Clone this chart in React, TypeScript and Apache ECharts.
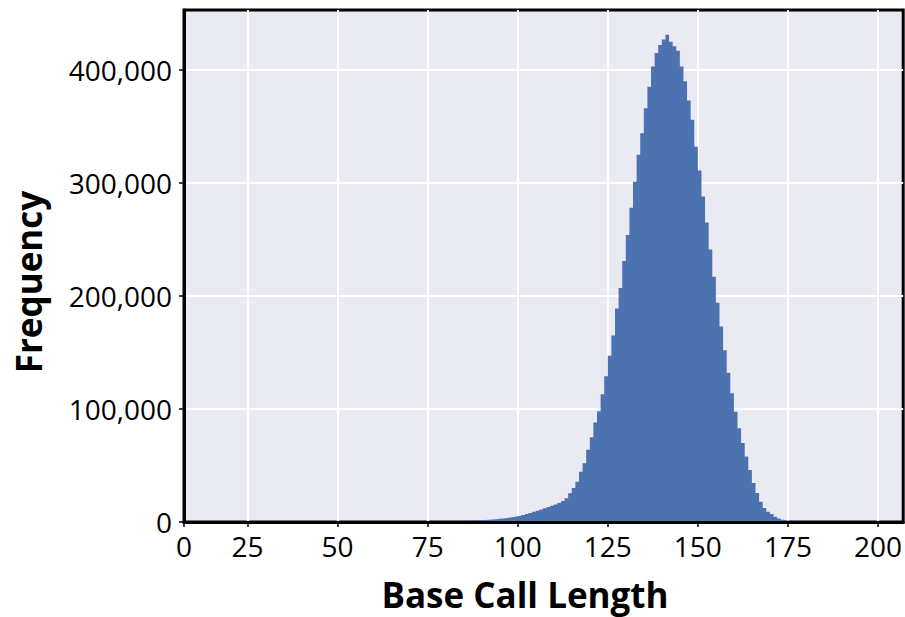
import React, { useEffect, useRef } from 'react';
import * as echarts from 'echarts';

// Histogram bins: width 1, first bin left edge = BIN_START
const BIN_START = 79;
const COUNTS = [
  0, 400, 500, 600, 700, 800, 900, 1000, 1100, 1300, 1500,
  1700, 1900, 2200, 2500, 2800, 3200, 3600, 4000, 4500, 5000,
  5600, 6300, 7100, 8000, 9000, 10000, 11000, 12100, 13200, 14300,
  15500, 16800, 18500, 21000, 25500, 30000, 35700, 44500, 52000, 64000,
  75000, 88000, 98000, 113000, 129000, 147000, 165000, 189000, 207000, 231000,
  254000, 278000, 301000, 325000, 344000, 366000, 385000, 403000, 415000, 422000,
  427000, 431000, 425000, 421000, 417000, 403000, 390000, 373000, 356000, 332000,
  311000, 288000, 265000, 241000, 217000, 194000, 173000, 152000, 132000, 114000,
  97600, 83000, 70000, 58000, 46000, 34500, 25600, 18000, 12400, 9000,
  7000, 4700, 3000, 2000, 1300, 800, 500, 300, 200, 100, 0,
];

const X_MIN = 7.36;
const X_MAX = 207;
const X_TICK_STEP = 25;
const Y_MAX = 453000;
const Y_TICK_STEP = 100000;
const X_TITLE = 'Base Call Length';
const Y_TITLE = 'Frequency';

export default function App() {
  const ref = useRef<HTMLDivElement>(null);
  useEffect(() => {
    document.body.style.margin = '0';
    if (!ref.current) return;
    const chart = echarts.init(ref.current, undefined, { renderer: 'svg' });
    const data = COUNTS.map((c, i) => [BIN_START + i, c]);
    const font = 'Open Sans';
    chart.setOption({
      animation: false,
      grid: {
        left: 184,
        right: 1.5,
        top: 10,
        bottom: 95,
        show: true,
        backgroundColor: '#EAEAF2',
        borderColor: '#000',
        borderWidth: 3,
      },
      xAxis: [
        {
          type: 'value',
          position: 'bottom',
          min: X_MIN,
          max: X_MAX,
          minInterval: X_TICK_STEP,
          maxInterval: X_TICK_STEP,
          axisLine: { show: false },
          axisTick: { show: true, length: 5, lineStyle: { color: '#000', width: 1.5 } },
          axisLabel: {
            show: true,
            showMinLabel: true,
            showMaxLabel: false,
            margin: 10,
            color: '#000',
            fontFamily: font,
            fontSize: 28,
            formatter: (v: number) => (Math.abs(v - X_MIN) < 0.01 ? '0' : String(v)),
          },
          splitLine: {
            show: true,
            showMinLine: false,
            showMaxLine: false,
            lineStyle: { color: '#fff', width: 2 },
          },
        },
        {
          type: 'value',
          position: 'bottom',
          min: X_MIN,
          max: X_MAX,
          z: 10,
          axisLine: { show: true, lineStyle: { color: '#000', width: 3 } },
          axisTick: { show: false },
          axisLabel: { show: false },
          splitLine: { show: false },
        },
      ],
      yAxis: {
        type: 'value',
        min: 0,
        max: Y_MAX,
        interval: Y_TICK_STEP,
        axisLine: { show: true, lineStyle: { color: '#000', width: 3 } },
        axisTick: { show: true, length: 5, lineStyle: { color: '#000', width: 1.5 } },
        axisLabel: {
          showMaxLabel: false,
          margin: 12,
          color: '#000',
          fontFamily: font,
          fontSize: 28,
          formatter: (v: number) => v.toLocaleString('en-US'),
        },
        splitLine: {
          show: true,
          showMinLine: false,
          showMaxLine: false,
          lineStyle: { color: '#fff', width: 2 },
        },
      },
      series: [
        {
          type: 'line',
          xAxisIndex: 0,
          step: 'end',
          data,
          symbol: 'none',
          showSymbol: false,
          lineStyle: { width: 0, opacity: 0 },
          areaStyle: { color: '#4C72B0', opacity: 1 },
        },
      ],
      graphic: [
        {
          type: 'text',
          x: 525,
          y: 594,
          style: {
            text: X_TITLE,
            font: `bold 35px "${font}"`,
            fill: '#000',
            textAlign: 'center',
            textVerticalAlign: 'middle',
          },
        },
        {
          type: 'text',
          x: 28,
          y: 282,
          rotation: Math.PI / 2,
          style: {
            text: Y_TITLE,
            font: `bold 35px "${font}"`,
            fill: '#000',
            textAlign: 'center',
            textVerticalAlign: 'middle',
          },
        },
      ],
    });
    return () => chart.dispose();
  }, []);
  return <div ref={ref} style={{ width: 905, height: 617 }} />;
}
